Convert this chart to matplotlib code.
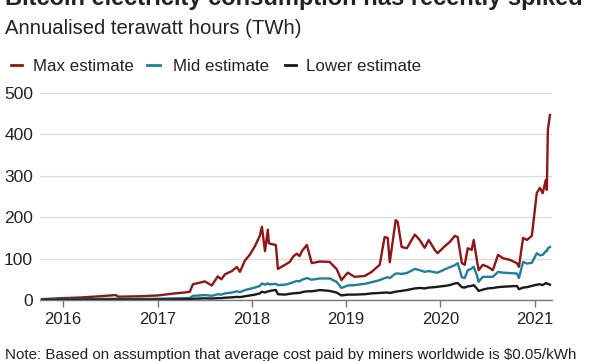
import matplotlib
matplotlib.use("Agg")
import matplotlib.pyplot as plt
import pandas as pd

plt.rcParams['font.family'] = ['Liberation Sans', 'DejaVu Sans']

dates = [
    "2015-10-12", "2015-12-15", "2016-03-07", "2016-05-23", "2016-07-24", "2016-08-01",
    "2016-10-25", "2017-01-03", "2017-03-09", "2017-04-15", "2017-05-06", "2017-05-18",
    "2017-06-14", "2017-07-03", "2017-07-30", "2017-08-22", "2017-09-05", "2017-09-19",
    "2017-10-16", "2017-11-04", "2017-11-16", "2017-12-05", "2017-12-25", "2018-01-13",
    "2018-02-01", "2018-02-09", "2018-02-21", "2018-03-04", "2018-03-08", "2018-03-19",
    "2018-04-04", "2018-04-12", "2018-05-09", "2018-05-28", "2018-06-10", "2018-06-24",
    "2018-07-05", "2018-07-14", "2018-08-02", "2018-08-21", "2018-09-21", "2018-10-29",
    "2018-11-25", "2018-12-14", "2019-01-07", "2019-02-03", "2019-03-14", "2019-04-10",
    "2019-05-11", "2019-05-30", "2019-06-11", "2019-06-19", "2019-07-12", "2019-07-20",
    "2019-08-04", "2019-08-24", "2019-09-24", "2019-10-13", "2019-11-01", "2019-11-17",
    "2019-12-10", "2019-12-21", "2020-01-18", "2020-02-06", "2020-02-26", "2020-03-08",
    "2020-03-24", "2020-04-04", "2020-04-16", "2020-05-01", "2020-05-09", "2020-05-21",
    "2020-05-28", "2020-06-13", "2020-07-03", "2020-07-22", "2020-08-11", "2020-08-30",
    "2020-09-26", "2020-10-23", "2020-10-31", "2020-11-16", "2020-12-01", "2020-12-20",
    "2021-01-08", "2021-01-20", "2021-01-31", "2021-02-12", "2021-02-16", "2021-02-20",
    "2021-02-28",
]

max_estimate = [
    2, 4, 6, 9, 12, 8,
    9, 11, 16, 18, 20, 38,
    42, 45, 35, 57, 50, 62,
    70, 80, 68, 95, 110, 130,
    155, 177, 118, 170, 137, 135,
    133, 75, 85, 92, 105, 112,
    106, 118, 133, 89, 93, 92,
    75, 48, 66, 56, 58, 68,
    85, 152, 150, 91, 193, 188,
    128, 125, 158, 145, 126, 145,
    121, 113, 130, 140, 155, 152,
    89, 85, 125, 121, 145, 97,
    72, 85, 80, 72, 109, 101,
    97, 89, 80, 150, 145, 155,
    258, 271, 258, 290, 266, 411,
    447,
]

mid_estimate = [
    1, 1.5, 2, 2.5, 3, 2.5,
    2.5, 3, 4, 4.5, 5, 10,
    11, 12, 10, 14, 13, 16,
    18, 21, 19, 24, 27, 30,
    34, 40, 37, 40, 38, 38,
    39, 36, 37, 40, 43, 46,
    45, 49, 53, 49, 52, 52,
    44, 29, 35, 36, 39, 43,
    48, 53, 55, 53, 64, 64,
    63, 65, 75, 72, 68, 70,
    67, 66, 74, 79, 84, 89,
    55, 53, 72, 76, 80, 60,
    44, 56, 56, 56, 68, 66,
    65, 64, 53, 92, 88, 90,
    113, 108, 109, 118, 118, 125,
    128,
]

lower_estimate = [
    0.5, 0.6, 0.8, 1, 1.2, 1,
    1, 1.2, 1.5, 1.8, 2, 3,
    3.5, 4, 3.5, 4.5, 4.5, 5.5,
    6.5, 7.5, 7, 9, 11, 13,
    16, 20, 18, 21, 21, 23,
    24, 14, 13, 15, 16, 17,
    17, 19, 21, 21, 24, 22,
    18, 11, 13, 13, 14, 16,
    17, 18, 18, 17, 20, 21,
    22, 24, 28, 29, 28, 30,
    31, 32, 34, 36, 40, 41,
    31, 30, 33, 34, 36, 28,
    22, 25, 28, 29, 31, 32,
    33, 34, 26, 30, 31, 34,
    37, 38, 36, 41, 40, 39,
    37,
]

y_ticks = [0, 100, 200, 300, 400, 500]
x_tick_labels = ["2016", "2017", "2018", "2019", "2020", "2021"]

series_names = ["Max estimate", "Mid estimate", "Lower estimate"]
series_colors = ["#8e1616", "#1f7f9c", "#1a1a1a"]

W, H = 600, 361
fig = plt.figure(figsize=(W / 100, H / 100), dpi=100)
ax = fig.add_axes([40 / W, 1 - 300 / H, 512 / W, 207 / H])

d = pd.to_datetime(dates)
for vals, c in zip([max_estimate, mid_estimate, lower_estimate], series_colors):
    ax.plot(d, vals, color=c, lw=1.7, solid_joinstyle="round")

ax.set_ylim(0, 500)
ax.set_xlim(pd.Timestamp("2015-10-04"), pd.Timestamp("2021-03-08"))
ax.set_yticks(y_ticks)
ax.set_yticklabels([str(v) for v in y_ticks], fontsize=12.5, color="#222222")
ax.set_xticks(pd.to_datetime([f"{y}-01-01" for y in x_tick_labels]))
ax.set_xticklabels(x_tick_labels, fontsize=12, color="#222222")
ax.tick_params(axis="y", length=0, pad=5)
ax.tick_params(axis="x", length=5, width=1, color="#777777", pad=4)
ax.grid(axis="y", color="#dddddd", lw=1)
ax.set_axisbelow(True)
for s in ["top", "right", "left"]:
    ax.spines[s].set_visible(False)
ax.spines["bottom"].set_color("#777777")
ax.spines["bottom"].set_linewidth(1)

# cropped title at top (only its lower edge is visible in the reference)
fig.text(5 / W, 1 - 5 / H, "Bitcoin electricity consumption has recently spiked",
         fontsize=17, fontweight="bold", color="#222222", va="baseline", ha="left")
fig.text(5 / W, 1 - 34 / H, "Annualised terawatt hours (TWh)", fontsize=14.6,
         color="#222222", va="baseline", ha="left")

# legend
leg_line = [(11, 22, 33), (147, 160, 173), (285, 296, 306)]
for (x0, x1, xt), name, c in zip(leg_line, series_names, series_colors):
    fig.add_artist(plt.Line2D([x0 / W, x1 / W], [1 - 65 / H, 1 - 65 / H], color=c, lw=2,
                              transform=fig.transFigure))
    fig.text(xt / W, 1 - 71 / H, name, fontsize=12.2, color="#222222", va="baseline", ha="left")

fig.text(5 / W, 1 - 359 / H,
         "Note: Based on assumption that average cost paid by miners worldwide is $0.05/kWh",
         fontsize=10.9, color="#222222", va="baseline", ha="left")

fig.savefig("out.png", dpi=100, facecolor="white")
